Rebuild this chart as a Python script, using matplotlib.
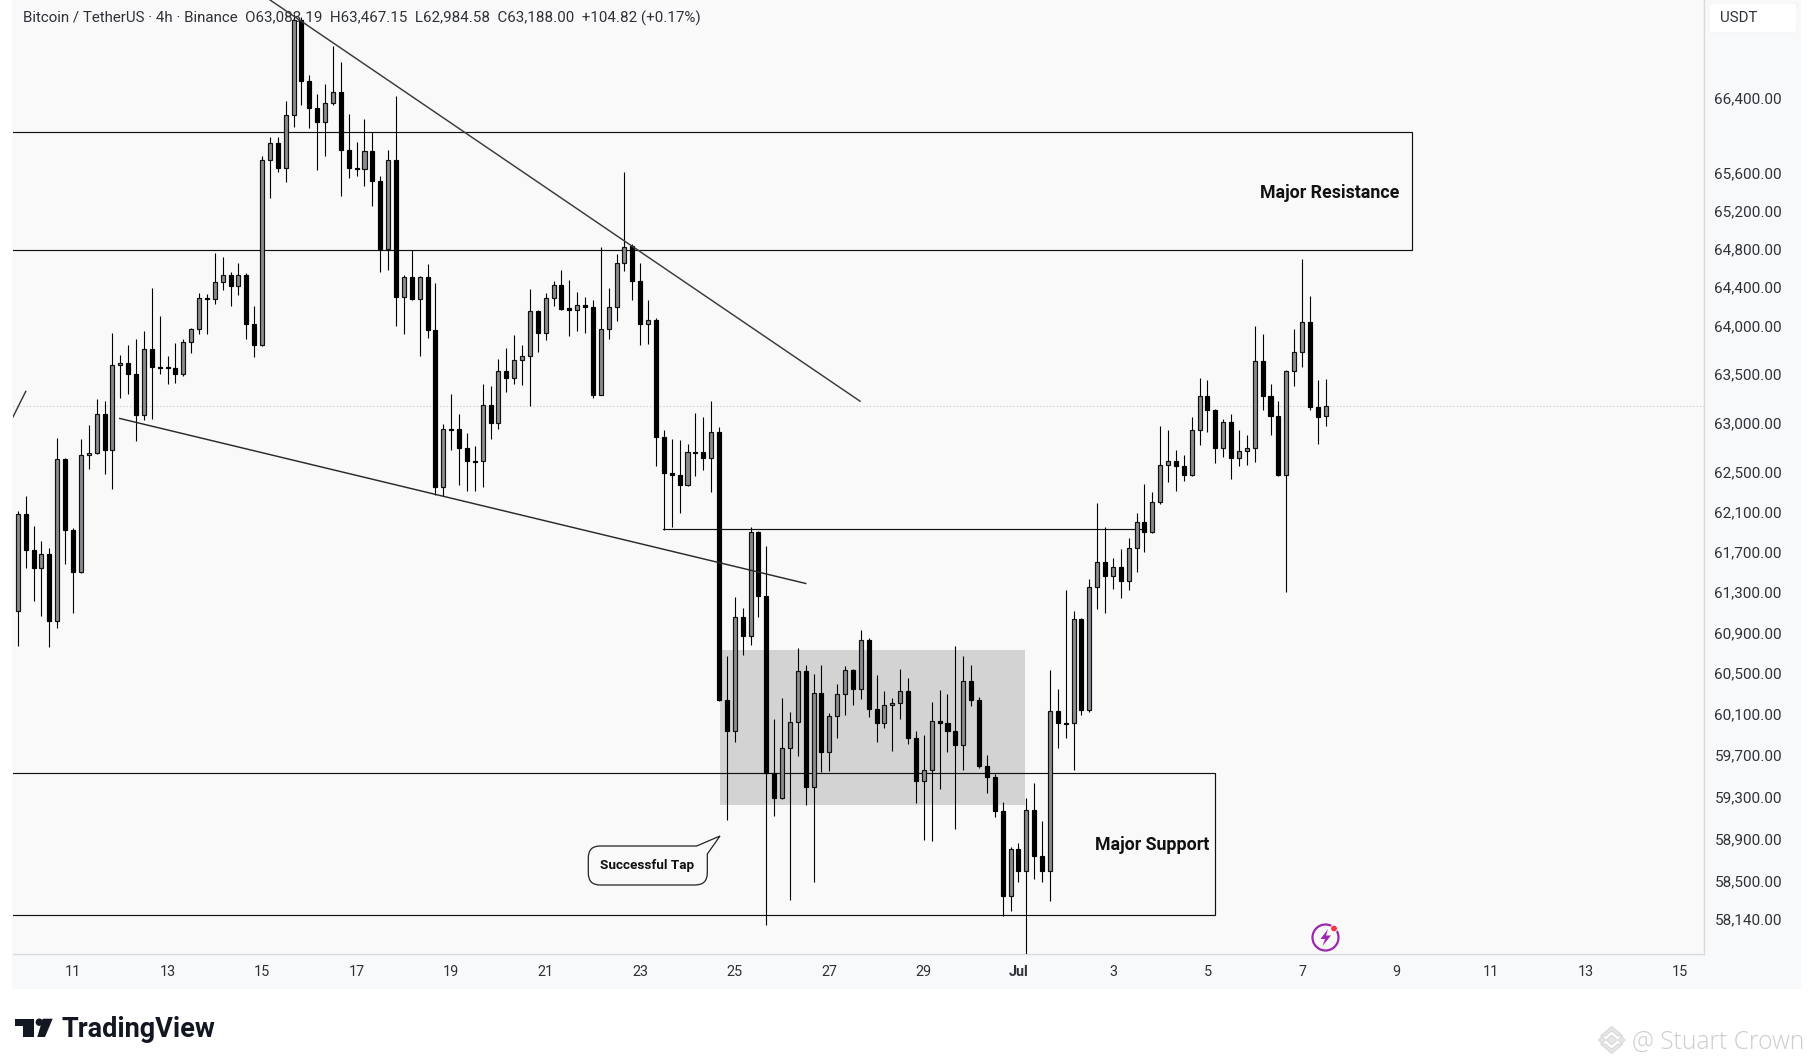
import matplotlib
matplotlib.use("Agg")
import matplotlib.pyplot as plt
import numpy as np
from matplotlib.patches import Rectangle, FancyBboxPatch, PathPatch, Polygon, Circle, Arc
from matplotlib.path import Path
from matplotlib.transforms import Affine2D, ScaledTranslation

W, H = 1814, 1064
plt.rcParams['font.family'] = ['Roboto', 'DejaVu Sans']

# ---------- data ----------
first_candle_day = 9 + 5 / 6   # June 9, 20:00
candles_per_day = 6

opens = [61100,62070,61700,61520,61660,61000,62620,61910,61480,62660,62690,63080,62720,63590,63610,63500,63070,63750,63570,63570,
63560,63500,63830,63960,64280,64270,64450,64530,64410,64530,64010,63790,65740,65920,65660,66220,67250,66590,66300,66150,
66350,66470,65850,65660,65650,65840,65520,64800,65740,64290,64500,64270,64500,63950,62340,62930,62930,62740,62600,62600,
63180,62990,63530,63450,63640,63680,64150,63920,64280,64420,64180,64160,64210,64190,63280,63960,64190,64650,64830,64460,
64010,64050,62850,62480,62460,62360,62700,62700,62630,62900,60220,59920,61040,60850,61890,61250,59510,59270,59750,60000,
60500,59370,60290,59710,60060,60280,60510,60330,60810,60130,59990,60170,60190,60310,59850,59430,59540,60010,59990,59920,
59780,60400,60220,59580,59470,59140,58330,58780,58570,59150,58710,58570,60110,59990,59990,61020,60120,61330,61580,61440,
61530,61390,61720,61990,61890,62190,62560,62600,62550,62460,62920,63270,63120,62740,63000,62630,62710,62740,63630,63270,
63060,62460,63530,63720,64030,63160,63083.19]
highs = [62100,62250,61950,61790,61720,62840,62630,61930,62830,62970,63240,63220,63920,63690,63790,63860,63940,64390,64100,63680,
63820,63860,63970,64340,64330,64760,64710,64560,64650,64550,64200,65790,65990,65990,66380,67320,67290,66660,66450,66560,
66970,66800,66240,65930,66180,66040,65570,65850,66430,64530,64790,64510,64640,64440,62980,63290,63080,62890,62760,63390,
63370,63650,63760,63900,63790,64380,64160,64340,64460,64580,64470,64350,64290,64260,64820,64390,64750,65610,64850,64650,
64260,64080,62920,62830,62820,62780,63090,63050,63220,62950,60650,61240,61130,61940,61900,61740,60030,60240,60100,60730,
60560,60470,60560,60090,60380,60550,60520,60910,60830,60460,60310,60240,60520,60430,59920,59880,60200,60320,60280,60750,
60650,60560,60250,59680,59500,59230,58800,58840,59270,59410,59050,60510,60330,61300,61100,61030,61410,62180,61940,61620,
61710,61830,62080,62370,62290,62960,62920,62720,62660,63050,63450,63430,63130,63030,63080,62920,62870,63990,63910,63390,
63220,63540,63960,64690,64310,63430,63467.15]
lows = [60750,61520,61200,61050,60740,60930,61560,61080,61470,62520,62680,62470,62320,63250,63290,62810,63020,63030,63490,63390,
63400,63470,63710,63910,63910,64220,64370,64200,64320,63860,63670,63780,65340,65610,65510,66100,66330,66080,65640,65790,
66330,65360,65550,65570,65470,65250,64560,64580,63990,63910,64260,63680,63870,62260,62250,62720,62360,62300,62300,62340,
62830,62930,63310,63390,63380,63170,63720,63850,64200,64160,63890,63940,63920,63250,63280,63860,64040,64570,64260,63790,
63810,62550,61910,61940,62080,62350,62450,62510,62290,60210,59060,59810,60660,60760,61040,58060,59090,59260,58290,59670,
59200,58460,59520,59530,59850,60070,60170,60230,60050,59810,59950,59720,60030,59790,59220,58860,58850,59350,59710,58970,
59540,60160,59560,59320,59080,58140,58190,58460,57760,58490,58460,58280,59750,59850,59540,60070,60100,61120,61080,61310,
61230,61300,61480,61680,61880,62170,62390,62300,62400,62450,62770,62900,62580,62640,62420,62550,62560,62590,63120,62870,
62450,61280,63370,63570,63120,62780,62984.58]
closes = [62070,61700,61520,61660,61000,62620,61910,61480,62660,62690,63080,62720,63590,63610,63500,63070,63750,63570,63560,63560,
63500,63830,63960,64280,64270,64450,64530,64410,64530,64010,63790,65740,65920,65660,66220,67250,66590,66300,66150,66350,
66470,65850,65660,65650,65840,65520,64800,65740,64290,64500,64270,64500,63950,62340,62930,62920,62740,62600,62590,63180,
62990,63530,63450,63640,63680,64150,63920,64280,64420,64170,64160,64210,64190,63280,63960,64190,64650,64820,64460,64010,
64050,62850,62480,62460,62360,62700,62690,62630,62900,60220,59920,61040,60850,61890,61250,59510,59270,59750,60000,60500,
59370,60290,59710,60060,60280,60510,60330,60810,60130,59990,60170,60190,60310,59850,59430,59540,60010,59990,59920,59780,
60400,60220,59580,59470,59140,58330,58780,58570,59150,58710,58570,60110,59990,59980,61020,60120,61330,61580,61440,61530,
61390,61720,61990,61890,62190,62560,62600,62550,62460,62920,63270,63120,62740,63000,62630,62710,62740,63630,63270,63060,
62460,63530,63720,64030,63160,63050,63188.00]

price_ticks = [66400,65600,65200,64800,64400,64000,63500,63000,62500,62100,61700,61300,60900,60500,60100,59700,59300,58900,58500,58140]
day_ticks = [11,13,15,17,19,21,23,25,27,29,31,33,35,37,39,41,43,45]
day_labels = ['11','13','15','17','19','21','23','25','27','29','Jul','3','5','7','9','11','13','15']

resistance_zone = (66044, 64785)
support_zone = (59507, 58147)
resistance_end_day = 39.33
support_end_day = 35.15
range_box_days = (24.69, 31.15)
range_box_prices = (59200, 60712)
current_price = 63188.0
falling_line_days = (15.17, 27.65)
falling_line_prices = (67474, 63215)
short_line_days = (9.73, 10.0)
short_line_prices = (63053, 63316)
lower_line_days = (11.99, 26.5)
lower_line_prices = (63038, 61370)
level_days = (23.49, 33.7)
level_price = 61914
resistance_label_price = 65395
support_label_price = 58820

header = "Bitcoin / TetherUS · 4h · Binance  O63,083.19  H63,467.15  L62,984.58  C63,188.00  +104.82 (+0.17%)"


def cal(p):
    """Prices above were read with a slightly narrow log spacing; align them with the tick spacing."""
    return 66400 * np.exp(-(98.7 + 6149 * np.log(66400 / np.asarray(p, float)) - 99.7) / 6173)


# ---------- style ----------
CARD = '#F8F9FA'
PANE = '#F9F9FA'
GRAY = '#8B8B8F'
AXLINE = '#D8DADC'
TEXT = '#2E3238'

fig = plt.figure(figsize=(W / 100, H / 100), dpi=100, facecolor='white')
pix = Affine2D().scale(1, -1).translate(0, H)   # image pixel space for chrome

fig.add_artist(Rectangle((12, 0), 1789, 989, transform=pix, facecolor=CARD, edgecolor='none', zorder=-5))

ax = fig.add_axes([13 / W, (H - 954) / H, (1704 - 13) / W, 954 / H])
ax.set_facecolor(PANE)
ax.set_yscale('log')
ax.set_xlim(9.7307, 45.504)
ax.set_ylim(57824, 67481)

ax.minorticks_off()
ax.yaxis.tick_right()
ax.set_yticks(price_ticks)
ax.set_yticklabels([f"{p:,.2f}" for p in price_ticks], fontsize=11, color=TEXT)
ax.set_xticks(day_ticks)
ax.set_xticklabels(day_labels, fontsize=10.4, color=TEXT)
ax.get_xticklabels()[10].set_fontweight('bold')
ax.tick_params(axis='both', length=0)
ax.tick_params(axis='y', pad=7.5)
ax.tick_params(axis='x', pad=8)
ax.minorticks_off()
for lab in ax.get_yticklabels():
    lab.set_transform(lab.get_transform() + ScaledTranslation(0, 1.5 / 100, fig.dpi_scale_trans))
for s in ('top', 'left'):
    ax.spines[s].set_visible(False)
for s in ('bottom', 'right'):
    ax.spines[s].set_color(AXLINE)
    ax.spines[s].set_linewidth(1.0)

# zones
rb = cal(range_box_prices)
ax.add_patch(Rectangle((range_box_days[0], rb[0]), range_box_days[1] - range_box_days[0],
                       rb[1] - rb[0], facecolor='#D3D3D3', edgecolor='none', zorder=1))
left_edge = ax.get_xlim()[0] - 2
rz = cal(resistance_zone)
sz = cal(support_zone)
ax.add_patch(Rectangle((left_edge, rz[1]), resistance_end_day - left_edge,
                       rz[0] - rz[1], fill=False, edgecolor='#111111', lw=0.85, zorder=2))
ax.add_patch(Rectangle((left_edge, sz[1]), support_end_day - left_edge,
                       sz[0] - sz[1], fill=False, edgecolor='#111111', lw=0.85, zorder=2))

# price line
ax.axhline(current_price, color='#C4C4C4', lw=0.8, ls=(0, (1, 2)), zorder=1.5)

# header (behind the candles)
ax.text(0.00591, 0.9805, header, transform=ax.transAxes, fontsize=10.92, color=TEXT, va='center', ha='left', zorder=1.2)

# candles
o = np.array(opens, float)
h = np.array(highs, float)
l = np.array(lows, float)
c = np.array(closes, float)
for arr in (o, h, l, c):
    arr[:-1] = cal(arr[:-1])    # the last candle's values are printed in the header
days = first_candle_day + np.arange(len(o)) / candles_per_day
ax.vlines(days, l, h, color='#000000', lw=0.8, zorder=3)
up = c >= o
ax.bar(days[up], (c - o)[up], bottom=o[up], width=0.085, color=GRAY, edgecolor='#111111', linewidth=0.85, zorder=4)
ax.bar(days[~up], (o - c)[~up], bottom=c[~up], width=0.085, color='#000000', edgecolor='#000000', linewidth=0.85, zorder=4)

# trend lines
ax.plot(falling_line_days, cal(falling_line_prices), color='#3A3A3A', lw=1.05, zorder=5)
ax.plot(short_line_days, cal(short_line_prices), color='#3A3A3A', lw=1.05, zorder=5)
ax.plot(lower_line_days, cal(lower_line_prices), color='#2A2A2A', lw=1.05, zorder=5)
ax.plot(level_days, cal([level_price, level_price]), color='#111111', lw=0.85, zorder=2.5)

# labels
ax.text(39.07, cal(resistance_label_price), 'Major Resistance', fontsize=12.8, fontweight='bold', color='#111111',
        ha='right', va='center', zorder=6)
ax.text(35.03, cal(support_label_price), 'Major Support', fontsize=12.8, fontweight='bold', color='#111111',
        ha='right', va='center', zorder=6)

# callout
verts = [(600, 846), (696.7, 846), (720, 836), (707.3, 854), (707.3, 873),
         (707.3, 885), (695, 885), (600, 885), (588.3, 885), (588.3, 873), (588.3, 858), (588.3, 846), (600, 846), (600, 846)]
codes = [Path.MOVETO, Path.LINETO, Path.LINETO, Path.LINETO, Path.LINETO,
         Path.CURVE3, Path.CURVE3, Path.LINETO, Path.CURVE3, Path.CURVE3, Path.LINETO, Path.CURVE3, Path.CURVE3, Path.CLOSEPOLY]
fig.add_artist(PathPatch(Path(verts, codes), transform=pix, facecolor=PANE, edgecolor='#222222', lw=0.9, zorder=7))
fig.text(647.5 / W, 1 - 866 / H, 'Successful Tap', fontsize=9.7, fontweight='bold', color='#111111',
         ha='center', va='center', zorder=9)

# currency box
fig.add_artist(FancyBboxPatch((1711, 5), 84, 26, boxstyle='round,pad=2,rounding_size=4', transform=pix,
                              facecolor='white', edgecolor='#F2F2F2', lw=0.6, zorder=6))
fig.text(1720 / W, 1 - 17.5 / H, 'USDT', fontsize=10.8, color=TEXT, ha='left', va='center', zorder=7)

# lightning badge
fig.add_artist(Arc((1325.5, 937.5), 26, 26, theta1=0, theta2=360, transform=pix, edgecolor='#9C27B0', lw=1.6, zorder=6))
fig.add_artist(Polygon([(1328, 929), (1320.5, 939), (1325, 939), (1322.5, 946), (1331, 935.5), (1326, 935.5)],
                       transform=pix, facecolor='#9C27B0', edgecolor='none', zorder=7))
fig.add_artist(Circle((1334, 928.5), 3.4, transform=pix, facecolor='#F23645', edgecolor=PANE, lw=0.7, zorder=8))

# TradingView logo
fig.add_artist(Polygon([(15.3, 1018.7), (34, 1018.7), (34, 1037), (22.7, 1037), (22.7, 1026), (15.3, 1026)],
                       transform=pix, facecolor='#131722', edgecolor='none'))
fig.add_artist(Circle((39.3, 1022.2), 3.7, transform=pix, facecolor='#131722', edgecolor='none'))
fig.add_artist(Polygon([(42.7, 1018.7), (52.7, 1018.7), (45, 1037), (37.3, 1037)],
                       transform=pix, facecolor='#131722', edgecolor='none'))
fig.text(61.5 / W, 1 - 1037 / H, 'TradingView', fontsize=19.5, fontweight='bold', color='#131722',
         ha='left', va='baseline')

# watermark
for pts in ([(1600.5, 1036), (1611.7, 1026.5), (1622.9, 1036), (1618, 1036), (1611.7, 1031), (1605.4, 1036)],
            [(1600.5, 1044), (1605.4, 1044), (1611.7, 1049), (1618, 1044), (1622.9, 1044), (1611.7, 1053.5)],
            [(1611.7, 1035), (1617, 1040), (1611.7, 1045), (1606.4, 1040)],
            [(1598.5, 1040), (1602, 1036.5), (1605.5, 1040), (1602, 1043.5)],
            [(1618, 1040), (1621.5, 1036.5), (1625, 1040), (1621.5, 1043.5)]):
    fig.add_artist(Polygon(pts, transform=pix, facecolor='#E6E6E6', edgecolor='#D6D6D6', lw=0.7))
fig.text(1631.7 / W, 1 - 1049.3 / H, '@ Stuart Crown', fontsize=17.7, color='#CDCDCD', ha='left', va='baseline',
         family=['Open Sans', 'DejaVu Sans'], fontweight='light')

fig.savefig('out.png', dpi=100, facecolor='white')
